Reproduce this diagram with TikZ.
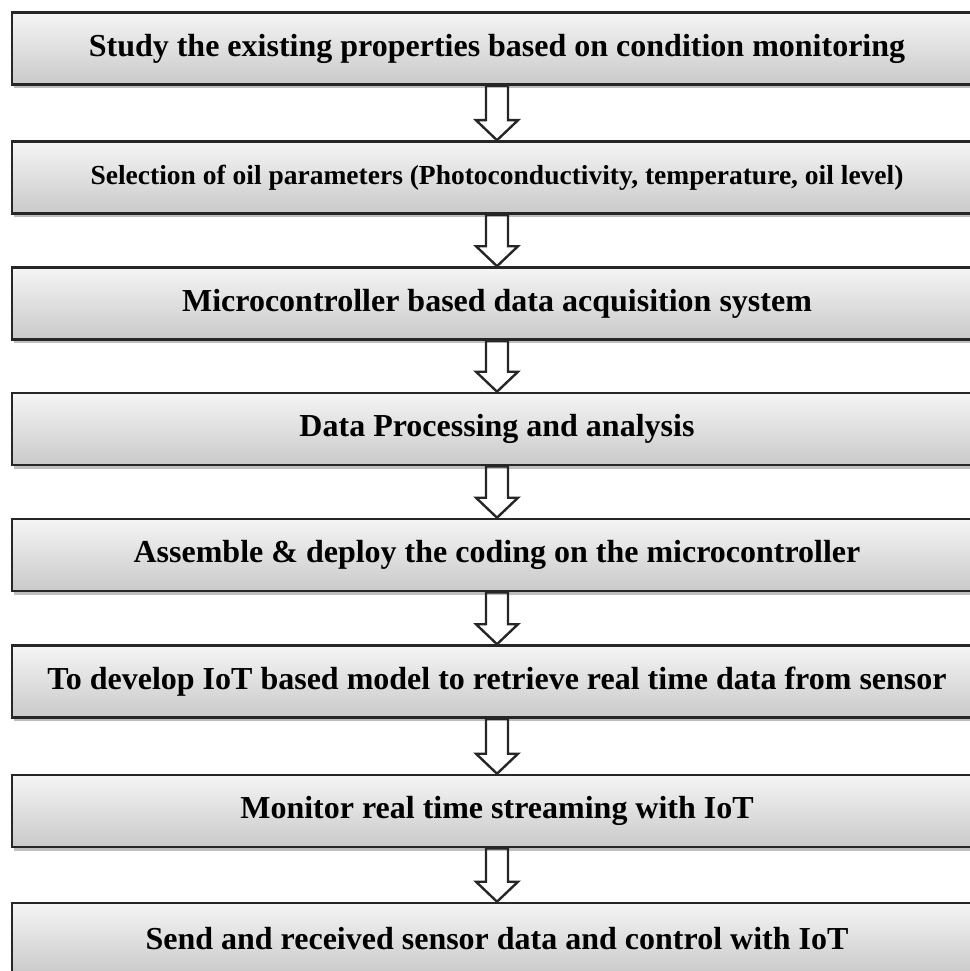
\documentclass[tikz,border=0pt]{standalone}
\usepackage{fontspec}
\setmainfont{Liberation Serif}
\usetikzlibrary{shadows}
\tikzset{
  stage/.style={draw=black!85, line width=2.6pt, top color=gray!8, bottom color=gray!42,
    minimum width=970pt, minimum height=72pt, inner sep=0pt,
    drop shadow={shadow xshift=2pt, shadow yshift=-3.5pt, fill=black!50},
    font=\fontsize{32}{36}\selectfont\bfseries},
  smallstage/.style={stage, font=\fontsize{27.5}{32}\selectfont\bfseries},
  hollow/.style={line width=2.4pt, draw=black!85, fill=gray!18, line join=miter,
    to path={([xshift=-11pt]\tikztostart.south) -- ([xshift=-11pt,yshift=20pt]\tikztotarget.north)
      -- ([xshift=-21pt,yshift=20pt]\tikztotarget.north) -- (\tikztotarget.north)
      -- ([xshift=21pt,yshift=20pt]\tikztotarget.north) -- ([xshift=11pt,yshift=20pt]\tikztotarget.north)
      -- ([xshift=11pt]\tikztostart.south) -- cycle}}
}
\begin{document}
\begin{tikzpicture}[x=1pt,y=-1pt]
  \useasboundingbox (0,0) rectangle (969,971);
  \draw
    (497,48.5) node[stage] (1){Study the existing properties based on condition monitoring}
    (497,177.5) node[smallstage] (2){Selection of oil parameters (Photoconductivity, temperature, oil level)}
    (497,303.5) node[stage] (3){Microcontroller based data acquisition system}
    (497,429) node[stage] (4){Data Processing and analysis}
    (497,555) node[stage] (5){Assemble \& deploy the coding on the microcontroller}
    (497,681.5) node[stage] (6){To develop IoT based model to retrieve real time data from sensor}
    (497,811) node[stage] (7){Monitor real time streaming with IoT}
    (497,939) node[stage] (8){Send and received sensor data and control with IoT};
  \begin{scope}[hollow]
    \draw (1) to (2);
    \draw (2) to (3);
    \draw (3) to (4);
    \draw (4) to (5);
    \draw (5) to (6);
    \draw (6) to (7);
    \draw (7) to (8);
  \end{scope}
\end{tikzpicture}
\end{document}
